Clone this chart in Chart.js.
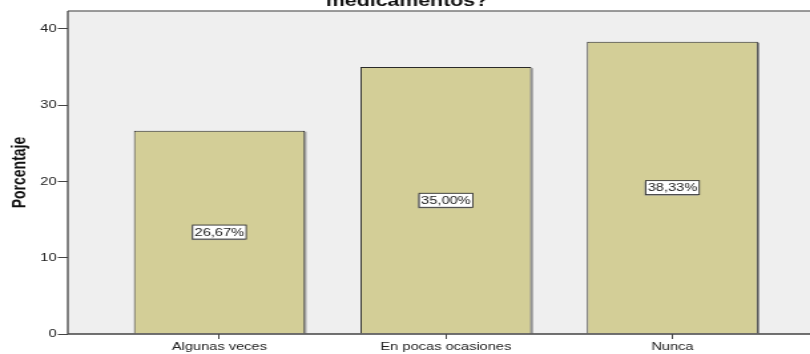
<!DOCTYPE html>
<html>
<head>
<meta charset="utf-8">
<script src="https://cdn.jsdelivr.net/npm/chart.js@4.4.1/dist/chart.umd.min.js"></script>
<style>
  html, body { margin: 0; padding: 0; background: #fff; overflow: hidden; }
  #marco { width: 810px; height: 354px; overflow: hidden; position: relative; }
  /* el gráfico se dibuja estrecho y se estira en horizontal */
  #lienzo { transform: scaleX(1.3301); transform-origin: 0 0; width: 624px; height: 354px; }
  canvas { display: block; }
</style>
</head>
<body>
<div id="marco"><div id="lienzo"><canvas id="grafico" width="624" height="354"></canvas></div></div>
<script>
  var CATEGORIAS = ["Algunas veces", "En pocas ocasiones", "Nunca"];
  var PORCENTAJES = [26.67, 35.00, 38.33];
  var TICKS_Y = [0, 10, 20, 30, 40];
  var TITULO = "medicamentos?";
  var TITULO_Y = "Porcentaje";

  var RELLENO = "#d3ce97";
  var FONDO = "#efefef";
  var TINTA = "#222222";
  var FUENTE = "'Liberation Sans', Arial, sans-serif";

  function fmt(v) { return v.toFixed(2).replace(".", ",") + "%"; }

  var fondoYMarco = {
    id: "fondoYMarco",
    beforeDraw: function (chart) {
      var ctx = chart.ctx, a = chart.chartArea;
      ctx.save();
      ctx.fillStyle = "#fff";
      ctx.fillRect(0, 0, chart.width, chart.height);
      ctx.fillStyle = FONDO;
      ctx.fillRect(a.left, a.top, a.right - a.left, a.bottom - a.top);
      ctx.restore();
    },
    beforeDatasetsDraw: function (chart) {
      // sombra gris a la derecha de cada barra
      var ctx = chart.ctx;
      ctx.save();
      ctx.fillStyle = "#8c8c8c";
      chart.getDatasetMeta(0).data.forEach(function (b) {
        ctx.fillRect(b.x + b.width / 2, b.y + 1, 1.1, b.base - b.y - 1);
      });
      ctx.restore();
    },
    afterDatasetsDraw: function (chart) {
      var ctx = chart.ctx, a = chart.chartArea;
      ctx.save();
      ctx.strokeStyle = "#7a7a7a";
      ctx.lineWidth = 1.6;
      ctx.beginPath();
      ctx.moveTo(a.left, a.top); ctx.lineTo(a.right, a.top);
      ctx.stroke();
      ctx.strokeStyle = "#444";
      ctx.lineWidth = 1.3;
      ctx.beginPath();
      ctx.moveTo(a.left, a.top); ctx.lineTo(a.left, a.bottom); ctx.lineTo(a.right, a.bottom);
      ctx.stroke();

      // etiquetas de valor en el centro de cada barra
      ctx.font = "11px " + FUENTE;
      ctx.textAlign = "center";
      ctx.textBaseline = "middle";
      chart.getDatasetMeta(0).data.forEach(function (b, i) {
        var txt = fmt(PORCENTAJES[i]);
        var w = ctx.measureText(txt).width + 3, h = 14;
        var cx = b.x, cy = (b.y + b.base) / 2;
        ctx.fillStyle = "#9a9a9a";
        ctx.fillRect(cx - w / 2 - 0.8, cy - h / 2 + 1, w, h);
        ctx.fillStyle = "#fff";
        ctx.fillRect(cx - w / 2, cy - h / 2, w, h);
        ctx.strokeStyle = "#333";
        ctx.lineWidth = 0.9;
        ctx.strokeRect(cx - w / 2, cy - h / 2, w, h);
        ctx.fillStyle = TINTA;
        ctx.fillText(txt, cx, cy + 0.5);
      });
      ctx.restore();
    },
    afterDraw: function (chart) {
      var ctx = chart.ctx, a = chart.chartArea;
      ctx.save();
      ctx.fillStyle = "#111";
      ctx.font = "bold 16px " + FUENTE;
      ctx.textAlign = "center";
      ctx.textBaseline = "alphabetic";
      ctx.fillText(TITULO, 306, 6);
      ctx.font = "bold 14px " + FUENTE;
      ctx.translate(14.9, (a.top + a.bottom) / 2);
      ctx.rotate(-Math.PI / 2);
      ctx.textBaseline = "middle";
      ctx.fillText(TITULO_Y, 0, 0);
      ctx.restore();
    }
  };

  new Chart(document.getElementById("grafico"), {
    type: "bar",
    data: {
      datasets: [{
        data: PORCENTAJES.map(function (v, i) { return { x: i, y: v }; }),
        backgroundColor: RELLENO,
        borderColor: "#2a2a2a",
        borderWidth: 1,
        categoryPercentage: 1,
        barPercentage: 0.755
      }]
    },
    options: {
      responsive: false,
      animation: false,
      events: [],
      layout: { padding: { top: 11, right: 4.5, left: 0, bottom: 0 } },
      plugins: { legend: { display: false }, tooltip: { enabled: false } },
      scales: {
        x: {
          type: "linear",
          offset: false,
          min: -0.669, max: 2.669,
          afterBuildTicks: function (s) { s.ticks = CATEGORIAS.map(function (c, i) { return { value: i }; }); },
          afterFit: function (s) { s.height = 20; },
          border: { display: false },
          grid: { offset: false, drawOnChartArea: false, drawTicks: true, tickLength: 5, color: "#444", lineWidth: 1 },
          ticks: {
            callback: function (v) { return CATEGORIAS[v]; },
            font: { family: FUENTE, size: 11 }, color: TINTA, padding: 1,
            autoSkip: false, maxRotation: 0
          }
        },
        y: {
          min: 0, max: 42.36,
          afterBuildTicks: function (s) { s.ticks = TICKS_Y.map(function (v) { return { value: v }; }); },
          afterFit: function (s) { s.width = 51; },
          border: { display: false },
          grid: { drawOnChartArea: false, drawTicks: true, tickLength: 7.5, color: "#444", lineWidth: 1 },
          ticks: { font: { family: FUENTE, size: 11 }, color: TINTA, padding: 1 }
        }
      }
    },
    plugins: [fondoYMarco]
  });
</script>
</body>
</html>
